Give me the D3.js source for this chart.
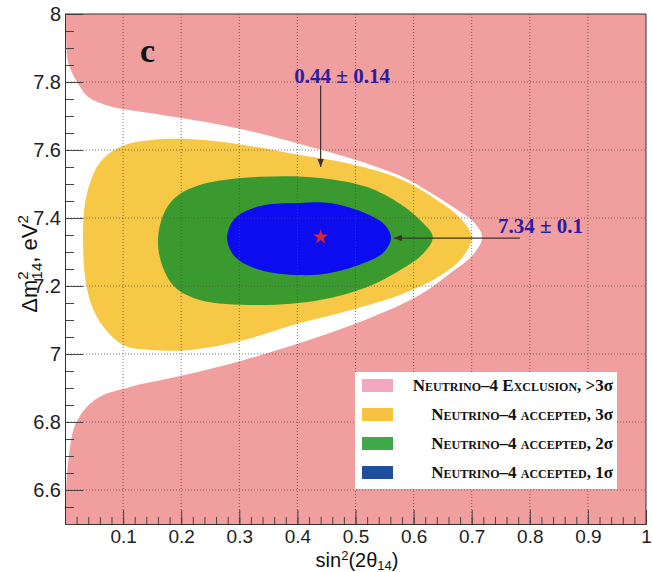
<!DOCTYPE html>
<html>
<head>
<meta charset="utf-8">
<script src="https://cdn.jsdelivr.net/npm/d3@7"></script>
<style>
  body { margin: 0; background: #fff; }
  text { font-family: "Liberation Sans", Arial, sans-serif; }
</style>
</head>
<body>
<svg id="chart" width="652" height="572"></svg>
<script>
// ticks
const xMajor = [0.1, 0.2, 0.3, 0.4, 0.5, 0.6, 0.7, 0.8, 0.9, 1];
const yMajor = [6.6, 6.8, 7, 7.2, 7.4, 7.6, 7.8, 8];

// boundary of the non-excluded (white) region, [sin2, dm2]
const allowedEdge = [
  [0, 8], [0.0017, 7.938], [0.0052, 7.859], [0.021, 7.800], [0.040, 7.756],
  [0.077, 7.729], [0.146, 7.709], [0.232, 7.685], [0.318, 7.656], [0.404, 7.618],
  [0.491, 7.576], [0.577, 7.524], [0.628, 7.476], [0.671, 7.429], [0.702, 7.391],
  [0.718, 7.344], [0.702, 7.291], [0.666, 7.241], [0.611, 7.174], [0.525, 7.106],
  [0.404, 7.032], [0.301, 6.979], [0.198, 6.935], [0.112, 6.903], [0.060, 6.874],
  [0.033, 6.835], [0.0155, 6.782], [0.0069, 6.703], [0.0017, 6.600], [0, 6.5]
];

// accepted contours
const sigma3 = [
  [0.031, 7.344], [0.034, 7.438], [0.043, 7.503], [0.057, 7.556], [0.077, 7.591],
  [0.103, 7.615], [0.146, 7.629], [0.215, 7.632], [0.318, 7.612], [0.404, 7.585],
  [0.491, 7.559], [0.577, 7.515], [0.640, 7.453], [0.680, 7.400], [0.700, 7.344],
  [0.683, 7.282], [0.640, 7.224], [0.577, 7.174], [0.491, 7.129], [0.404, 7.091],
  [0.301, 7.038], [0.215, 7.012], [0.146, 7.012], [0.103, 7.024], [0.072, 7.068],
  [0.050, 7.126], [0.036, 7.209]
];
const sigma2 = [
  [0.160, 7.335], [0.169, 7.409], [0.189, 7.459], [0.232, 7.497], [0.336, 7.521],
  [0.439, 7.518], [0.520, 7.491], [0.577, 7.441], [0.611, 7.394], [0.633, 7.344],
  [0.614, 7.291], [0.577, 7.247], [0.520, 7.197], [0.439, 7.159], [0.336, 7.144],
  [0.232, 7.159], [0.189, 7.197], [0.167, 7.262]
];
const sigma1 = [
  [0.279, 7.341], [0.293, 7.400], [0.336, 7.435], [0.404, 7.444], [0.456, 7.444],
  [0.520, 7.412], [0.551, 7.379], [0.561, 7.341], [0.549, 7.300], [0.520, 7.271],
  [0.456, 7.238], [0.404, 7.232], [0.336, 7.247], [0.293, 7.285]
];

const bestFit = [0.44, 7.344];
const legendLabels = [
  "Neutrino\u20134 Exclusion, >3\u03c3",
  "Neutrino\u20134 accepted, 3\u03c3",
  "Neutrino\u20134 accepted, 2\u03c3",
  "Neutrino\u20134 accepted, 1\u03c3"
];
const legendColors = ["#f3a7c1", "#f6c23f", "#3fa94b", "#1f4e9e"];

const svg = d3.select('#chart');
const mLeft = 65, mRight = 646, mTop = 14, mBottom = 524;

const x = d3.scaleLinear().domain([0, 1]).range([mLeft, mRight]);
const y = d3.scaleLinear().domain([6.5, 8]).range([mBottom, mTop]);

const defs = svg.append('defs');
defs.append('clipPath').attr('id', 'plot-clip')
   .append('rect').attr('x', mLeft).attr('y', mTop)
   .attr('width', mRight - mLeft).attr('height', mBottom - mTop);

const plot = svg.append('g').attr('clip-path', 'url(#plot-clip)');

plot.append('rect')
    .attr('x', mLeft).attr('y', mTop)
    .attr('width', mRight - mLeft).attr('height', mBottom - mTop)
    .attr('fill', '#f09e9e');

const edgeLine = d3.line().x(d => x(d[0])).y(d => y(d[1])).curve(d3.curveCatmullRom);
plot.append('path').attr('d', edgeLine(allowedEdge) + 'Z').attr('fill', '#fff');

const ring = d3.line().x(d => x(d[0])).y(d => y(d[1])).curve(d3.curveCatmullRomClosed);
plot.append('path').attr('d', ring(sigma3)).attr('fill', '#f6c845');
plot.append('path').attr('d', ring(sigma2)).attr('fill', '#3a9a2f');
plot.append('path').attr('d', ring(sigma1)).attr('fill', '#0b0cf0');

// dotted grid
const grid = plot.append('g')
    .attr('stroke', '#5a4646').attr('stroke-width', 1)
    .attr('stroke-dasharray', '1,2').attr('opacity', 0.75);
grid.selectAll('.gx').data(xMajor.slice(0, -1)).enter().append('line')
    .attr('x1', d => x(d)).attr('x2', d => x(d))
    .attr('y1', mTop).attr('y2', mBottom);
grid.selectAll('.gy').data(yMajor.slice(0, -1)).enter().append('line')
    .attr('y1', d => y(d)).attr('y2', d => y(d))
    .attr('x1', mLeft).attr('x2', mRight);

// star
plot.append('path')
    .attr('d', d3.symbol(d3.symbolStar, 70)())
    .attr('transform', `translate(${x(bestFit[0])},${y(bestFit[1])})`)
    .attr('fill', '#d8262a');

// arrows
defs.append('marker').attr('id', 'head')
    .attr('viewBox', '0 0 10 10').attr('refX', 10).attr('refY', 5)
    .attr('markerWidth', 7).attr('markerHeight', 7).attr('orient', 'auto')
    .append('path').attr('d', 'M0,1 L10,5 L0,9 Z').attr('fill', '#3e3030');

svg.append('line')
    .attr('x1', x(0.44)).attr('x2', x(0.44))
    .attr('y1', y(7.79)).attr('y2', y(7.55))
    .attr('stroke', '#3e3030').attr('stroke-width', 1.2)
    .attr('marker-end', 'url(#head)');
svg.append('line')
    .attr('x1', x(0.783)).attr('x2', x(0.566))
    .attr('y1', y(7.341)).attr('y2', y(7.341))
    .attr('stroke', '#3e3030').attr('stroke-width', 1.2)
    .attr('marker-end', 'url(#head)');

const serif = '"Liberation Serif", "Times New Roman", serif';
svg.append('text').attr('x', x(0.477)).attr('y', 83)
    .attr('text-anchor', 'middle')
    .style('font-family', serif).style('font-weight', 'bold').style('font-size', '21px')
    .attr('fill', '#2c1ca3').text('0.44 \u00b1 0.14');
svg.append('text').attr('x', 498).attr('y', 233)
    .style('font-family', serif).style('font-weight', 'bold').style('font-size', '21px')
    .attr('fill', '#2c1ca3').text('7.34 \u00b1 0.1');
svg.append('text').attr('x', 140).attr('y', 62)
    .style('font-family', serif).style('font-weight', 'bold').style('font-size', '34px')
    .attr('fill', '#111').text('c');

// legend
const lg = svg.append('g');
lg.append('rect').attr('x', 355).attr('y', 372).attr('width', 262).attr('height', 117)
  .attr('fill', '#fff');
const rows = lg.selectAll('.row').data(legendLabels).enter().append('g')
  .attr('transform', (d, i) => `translate(0,${379 + i * 29})`);
rows.append('rect').attr('x', 362).attr('y', 0).attr('width', 31).attr('height', 13)
  .attr('fill', (d, i) => legendColors[i]);
const lt = rows.append('text').attr('x', 613).attr('y', 12).attr('text-anchor', 'end')
  .style('font-family', serif).style('font-weight', 'bold').style('font-size', '17px')
  .attr('fill', '#111');
lt.append('tspan').style('font-variant', 'small-caps').text(d => d.slice(0, -1));
lt.append('tspan').text(d => d.slice(-1));

// axes (inward ticks)
const axes = svg.append('g');
const xAxisMaj = d3.axisBottom(x).tickValues(xMajor).tickSizeInner(-14).tickSizeOuter(0)
    .tickPadding(6).tickFormat(d3.format('~g'));
const xAxisMin = d3.axisBottom(x).tickValues(d3.range(0, 1.001, 0.02)).tickSize(-7).tickFormat('');
const yAxisMaj = d3.axisLeft(y).tickValues(yMajor).tickSizeInner(-18).tickSizeOuter(0)
    .tickPadding(4).tickFormat(d3.format('~g'));
const yAxisMin = d3.axisLeft(y).tickValues(d3.range(6.5, 8.001, 0.05)).tickSize(-9).tickFormat('');

axes.append('g').attr('transform', `translate(0,${mBottom})`).call(xAxisMin);
const gx = axes.append('g').attr('transform', `translate(0,${mBottom})`).call(xAxisMaj);
axes.append('g').attr('transform', `translate(${mLeft},0)`).call(yAxisMin);
const gy = axes.append('g').attr('transform', `translate(${mLeft},0)`).call(yAxisMaj);

axes.selectAll('.domain').attr('stroke', '#333');
axes.selectAll('.tick line').attr('stroke', '#444');
gx.selectAll('text').style('font-size', '19px').attr('fill', '#222');
gy.selectAll('text').style('font-size', '20px').attr('fill', '#222');

// frame top / right
svg.append('line').attr('x1', mLeft).attr('x2', mRight).attr('y1', mTop).attr('y2', mTop)
   .attr('stroke', '#333');
svg.append('line').attr('x1', mRight).attr('x2', mRight).attr('y1', mTop).attr('y2', mBottom)
   .attr('stroke', '#333');

// axis titles
const xt = svg.append('text').attr('x', 357).attr('y', 567).attr('text-anchor', 'middle')
   .style('font-size', '20px').attr('fill', '#111');
xt.append('tspan').text('sin');
xt.append('tspan').attr('dy', -7).style('font-size', '13px').text('2');
xt.append('tspan').attr('dy', 7).text('(2\u03b8');
xt.append('tspan').attr('dy', 3).style('font-size', '13px').text('14');
xt.append('tspan').attr('dy', -3).text(')');

const yt = svg.append('text').attr('transform', 'translate(37,264) rotate(-90)')
   .attr('text-anchor', 'middle').style('font-size', '22px').attr('fill', '#111');
yt.append('tspan').text('\u0394m');
yt.append('tspan').attr('dy', -9).style('font-size', '15px').text('2');
yt.append('tspan').attr('dx', -8).attr('dy', 14).style('font-size', '15px').text('14');
yt.append('tspan').attr('dy', -5).text(', eV');
yt.append('tspan').attr('dy', -9).style('font-size', '15px').text('2');
</script>
</body>
</html>
